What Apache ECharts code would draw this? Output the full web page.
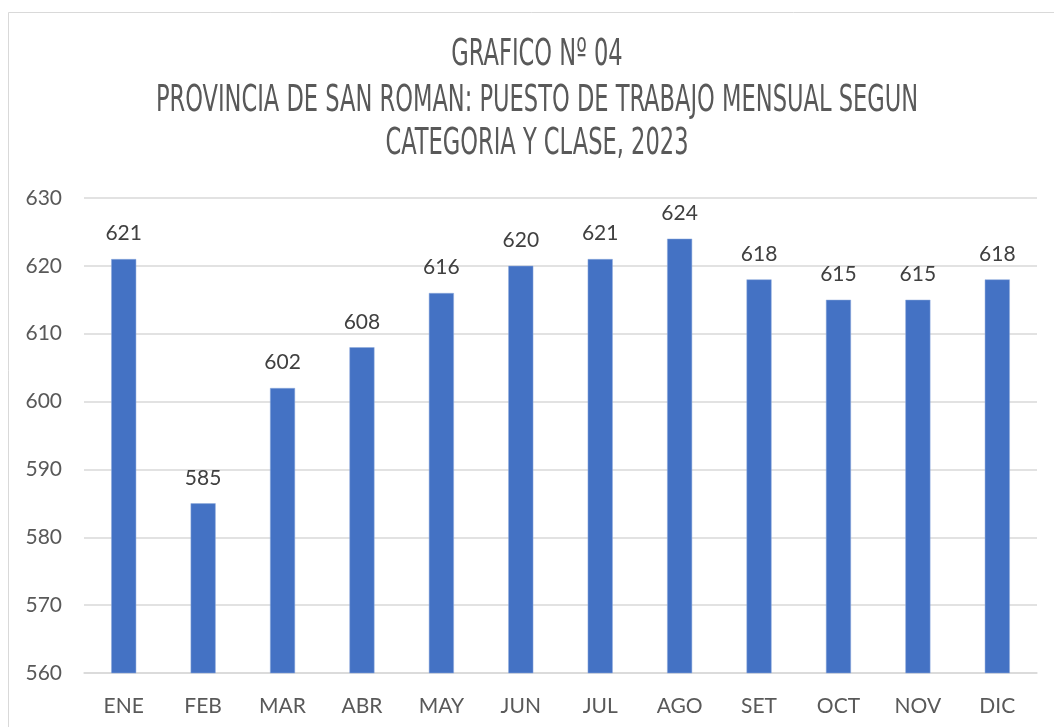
<!DOCTYPE html>
<html>
<head>
<meta charset="utf-8">
<script src="https://cdn.jsdelivr.net/npm/echarts@6/dist/echarts.min.js"></script>
<style>
html,body{margin:0;padding:0;background:#fff;}
#c{width:1054px;height:727px;}
</style>
</head>
<body>
<div id="c"></div>
<script>
const categories = ['ENE','FEB','MAR','ABR','MAY','JUN','JUL','AGO','SET','OCT','NOV','DIC'];
const values = [621,585,602,608,616,620,621,624,618,615,615,618];
const titleLines = ['GRAFICO Nº 04','PROVINCIA DE SAN ROMAN: PUESTO DE TRABAJO MENSUAL SEGUN','CATEGORIA Y CLASE, 2023'];
const titleY = [55, 101, 144];

const titleFont = "normal 38px 'DejaVu Sans Condensed', 'DejaVu Sans', sans-serif";
const titleGraphics = titleLines.map((t, i) => ({
  type:'text',
  x:537, y:titleY[i],
  scaleX:0.66, scaleY:1,
  silent:true,
  style:{text:t, font:titleFont, fill:'#595959', textAlign:'center', textVerticalAlign:'middle'}
}));

const chart = echarts.init(document.getElementById('c'), null, {renderer:'canvas'});
chart.setOption({
  backgroundColor:'#fff',
  animation:false,
  graphic:[{
    type:'rect',
    shape:{x:8.5,y:12.5,width:1100,height:800},
    style:{fill:'none',stroke:'#d9d9d9',lineWidth:1},
    silent:true
  }].concat(titleGraphics),
  grid:{left:84,right:17,top:198,bottom:54,containLabel:false},
  xAxis:{
    type:'category',
    data:categories,
    axisTick:{show:false},
    axisLine:{lineStyle:{color:'#d9d9d9',width:1.5}},
    axisLabel:{color:'#595959',fontSize:21,fontFamily:'Lato, sans-serif',margin:23}
  },
  yAxis:{
    type:'value',
    min:560,max:630,interval:10,
    axisLine:{show:false},
    axisTick:{show:false},
    splitLine:{lineStyle:{color:'#d9d9d9',width:1.5}},
    axisLabel:{color:'#595959',fontSize:21,fontFamily:'Lato, sans-serif',margin:22}
  },
  series:[{
    type:'bar',
    data:values,
    barWidth:25,
    itemStyle:{color:'#4472c4',borderColor:'#8faadc',borderWidth:0.5},
    label:{show:true,position:'top',distance:15,color:'#404040',fontSize:21,fontFamily:'Lato, sans-serif'}
  }]
});
</script>
</body>
</html>
